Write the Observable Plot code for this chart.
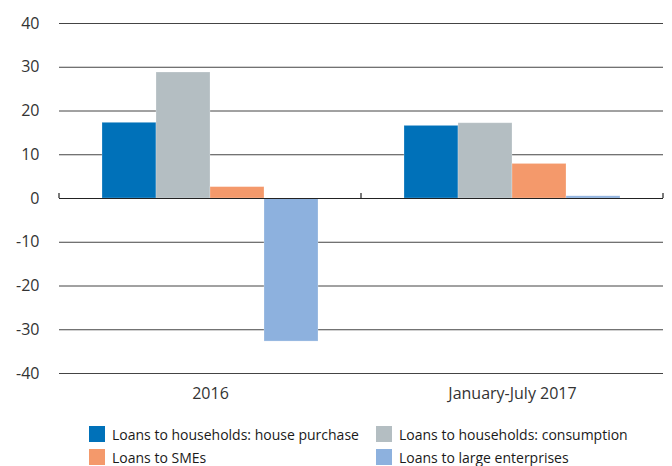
<!DOCTYPE html>
<html>
<head>
<meta charset="utf-8">
<script src="https://cdn.jsdelivr.net/npm/d3@7"></script>
<script src="https://cdn.jsdelivr.net/npm/@observablehq/plot@0.6"></script>
<style>
  body { margin: 0; background: #fff; }
  #chart { width: 672px; }
  .legend { position: relative; height: 54px; font-family: "Open Sans", sans-serif; font-size: 14px; color: #1a1a1a; }
  .item { position: absolute; display: flex; align-items: center; white-space: nowrap; height: 16px; }
  .sw { width: 16px; height: 16px; margin-right: 7px; flex: none; }
</style>
</head>
<body>
<div id="chart"></div>
<script>
const periods = ["2016", "January-July 2017"];
const seriesNames = [
  "Loans to households: house purchase",
  "Loans to households: consumption",
  "Loans to SMEs",
  "Loans to large enterprises"
];
const housePurchase = [17.3, 16.6];
const consumption = [28.8, 17.2];
const smes = [2.6, 7.9];
const largeEnterprises = [-32.7, 0.5];
const colors = ["#0071b9", "#b4bec2", "#f4996b", "#8db1de"];
const yTicks = [-40, -30, -20, -10, 0, 10, 20, 30, 40];

const seriesValues = [housePurchase, consumption, smes, largeEnterprises];
const data = [];
periods.forEach((p, i) => seriesNames.forEach((s, j) => data.push({period: p, series: s, value: seriesValues[j][i]})));

const font = '"Open Sans", sans-serif';
const plot = Plot.plot({
  width: 672, height: 412,
  marginLeft: 58, marginRight: 9, marginTop: 23, marginBottom: 39,
  style: {fontFamily: font, fontSize: "16px", color: "#333", background: "white"},
  fx: {domain: periods, padding: 0, label: null, tickSize: 0, tickPadding: 14},
  x: {domain: seriesNames, paddingInner: 0, paddingOuter: 0.764, axis: null},
  y: {domain: [-40, 40], ticks: yTicks, tickSize: 0, tickPadding: 20, label: null, tickFormat: d => String(d)},
  color: {domain: seriesNames, range: colors},
  marks: [
    Plot.ruleY(yTicks, {stroke: "#444", strokeWidth: 1}),
    Plot.barY(data, {fx: "period", x: "series", y: "value", fill: "series", stroke: "white", strokeOpacity: 0.3, strokeWidth: 0.8}),
    Plot.ruleY([0], {stroke: "#222", strokeWidth: 1.2})
  ]
});
document.getElementById("chart").appendChild(plot);

// category boundary ticks on the zero line
const fxS = plot.scale("fx"), yS = plot.scale("y");
const bounds = periods.map(p => fxS.apply(p)).concat([fxS.apply(periods[periods.length - 1]) + fxS.bandwidth]);
const y0 = yS.apply(0);
d3.select(plot).append("g").selectAll("line").data(bounds).join("line")
  .attr("x1", d => d).attr("x2", d => d)
  .attr("y1", y0).attr("y2", y0 - 5)
  .attr("stroke", "#222").attr("stroke-width", 1.2);

// legend
const legend = d3.select("#chart").append("div").attr("class", "legend");
const pos = [[89, 14], [376, 14], [89, 37], [376, 37]];
seriesNames.forEach((s, i) => {
  const it = legend.append("div").attr("class", "item")
    .style("left", pos[i][0] + "px").style("top", pos[i][1] + "px");
  it.append("div").attr("class", "sw").style("background", colors[i]);
  it.append("span").text(s);
});
</script>
</body>
</html>
